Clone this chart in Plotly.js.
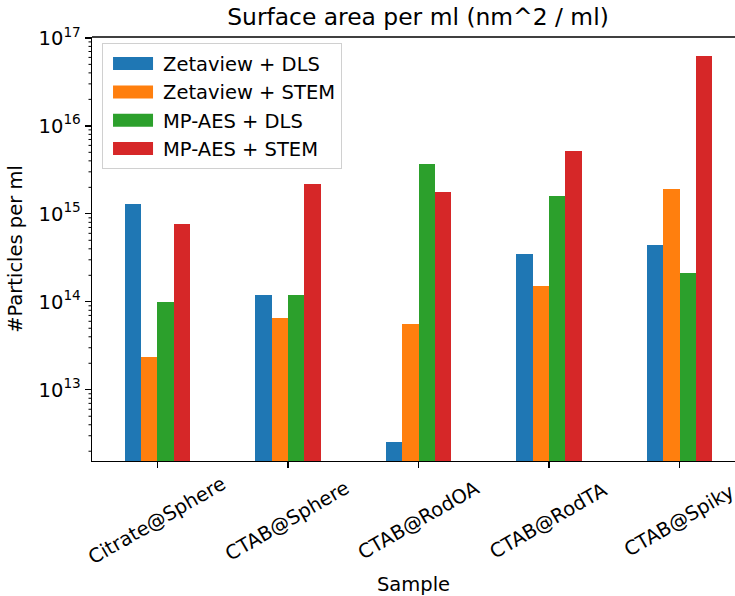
<!DOCTYPE html>
<html>
<head>
<meta charset="utf-8">
<script src="https://cdn.plot.ly/plotly-3.0.1.min.js"></script>
<style>html,body{margin:0;padding:0;background:#fff;}#chart{width:735px;height:596px;}</style>
</head>
<body>
<div id="chart"></div>
<script>
const categories = ["Citrate@Sphere", "CTAB@Sphere", "CTAB@RodOA", "CTAB@RodTA", "CTAB@Spiky"];
const seriesNames = ["Zetaview + DLS", "Zetaview + STEM", "MP-AES + DLS", "MP-AES + STEM"];
const zetaviewDLS  = [1.3e15, 1.21e14, 2.58e12, 3.51e14, 4.4e14];
const zetaviewSTEM = [2.34e13, 6.6e13, 5.6e13, 1.52e14, 1.89e15];
const mpaesDLS     = [1.0e14, 1.21e14, 3.66e15, 1.58e15, 2.1e14];
const mpaesSTEM    = [7.7e14, 2.19e15, 1.79e15, 5.15e15, 6.3e16];
const yTickVals = [1e13, 1e14, 1e15, 1e16, 1e17];
const yTickText = ["10<sup>13</sup>", "10<sup>14</sup>", "10<sup>15</sup>", "10<sup>16</sup>", "10<sup>17</sup>"];

const colors = ["#1f77b4", "#ff7f0e", "#2ca02c", "#d62728"];
const allSeries = [zetaviewDLS, zetaviewSTEM, mpaesDLS, mpaesSTEM];

const xIdx = categories.map((c, i) => i);
const traces = allSeries.map((vals, k) => ({
  type: "bar",
  name: seriesNames[k],
  x: xIdx,
  y: vals,
  offset: -0.25 + k * 0.125,
  width: 0.125,
  marker: {color: colors[k], line: {width: 0}},
  hoverinfo: "x+y+name"
}));

const font = "DejaVu Sans, sans-serif";
const fs = 19.5;
const yRange = [12.19, 17.01];

// minor tick marks of the log axis (placed in paper units so they are not clipped)
const minorTickShapes = [];
for (let e = 12; e <= 16; e++) {
  for (let m = 2; m <= 9; m++) {
    const lv = Math.log10(m) + e;
    if (lv < yRange[0] || lv > yRange[1]) continue;
    const py = (lv - yRange[0]) / (yRange[1] - yRange[0]);
    minorTickShapes.push({type: "line", xref: "paper", xsizemode: "pixel", xanchor: 0, x0: -3.5, x1: 0,
      yref: "paper", y0: py, y1: py, line: {color: "#000", width: 1}, layer: "above"});
  }
}

const tickAnnotations = categories.map((c, i) => ({
  text: c, x: i, xref: "x", y: -0.1415, yref: "paper",
  xanchor: "center", yanchor: "middle", textangle: -30, showarrow: false,
  font: {family: font, size: fs, color: "#000"}
}));

const layout = {
  width: 735,
  height: 596,
  margin: {l: 92, r: 0, t: 37, b: 135},
  paper_bgcolor: "#fff",
  plot_bgcolor: "#fff",
  font: {family: font, size: fs, color: "#000"},
  title: {text: "Surface area per ml (nm^2 / ml)", x: 0.507, xref: "paper", xanchor: "center", y: 0.971, yanchor: "middle", font: {family: font, size: 23.4, color: "#000"}},
  barmode: "overlay",
  bargap: 0,
  showlegend: true,
  legend: {
    x: 0.0156, y: 0.985, xanchor: "left", yanchor: "top",
    bgcolor: "rgba(255,255,255,0.8)", bordercolor: "#d0d0d0", borderwidth: 1,
    font: {family: font, size: fs, color: "#000"},
    itemwidth: 50
  },
  xaxis: {
    range: [-0.5, 4.423],
    tickmode: "array",
    tickvals: xIdx,
    showticklabels: false,
    ticks: "outside", ticklen: 6, tickwidth: 1.3, tickcolor: "#000",
    showline: true, linecolor: "#000", linewidth: 1.3,
    showgrid: false, zeroline: false,
    title: {text: "Sample", font: {family: font, size: fs, color: "#000"}, standoff: 110}
  },
  yaxis: {
    type: "log",
    range: yRange,
    tickmode: "array",
    tickvals: yTickVals,
    ticktext: yTickText,
    ticks: "outside", ticklen: 6, tickwidth: 1.3, tickcolor: "#000",
    showline: true, linecolor: "#000", linewidth: 1.3,
    showgrid: false, zeroline: false,
    tickfont: {family: font, size: fs, color: "#000"},
    title: {text: "#Particles per ml", font: {family: font, size: fs, color: "#000"}, standoff: 10}
  },
  annotations: tickAnnotations,
  shapes: [{type: "line", xref: "paper", yref: "paper", x0: 0, x1: 1, y0: 1, y1: 1, line: {color: "#000", width: 1.3}}].concat(minorTickShapes)
};

Plotly.newPlot("chart", traces, layout, {displayModeBar: false, staticPlot: true}).then(gd => {
  gd.querySelectorAll(".legend .legendpoints path").forEach(p => {
    p.setAttribute("d", "M20,6.5H-20V-6.5H20Z");
  });
});
</script>
</body>
</html>
